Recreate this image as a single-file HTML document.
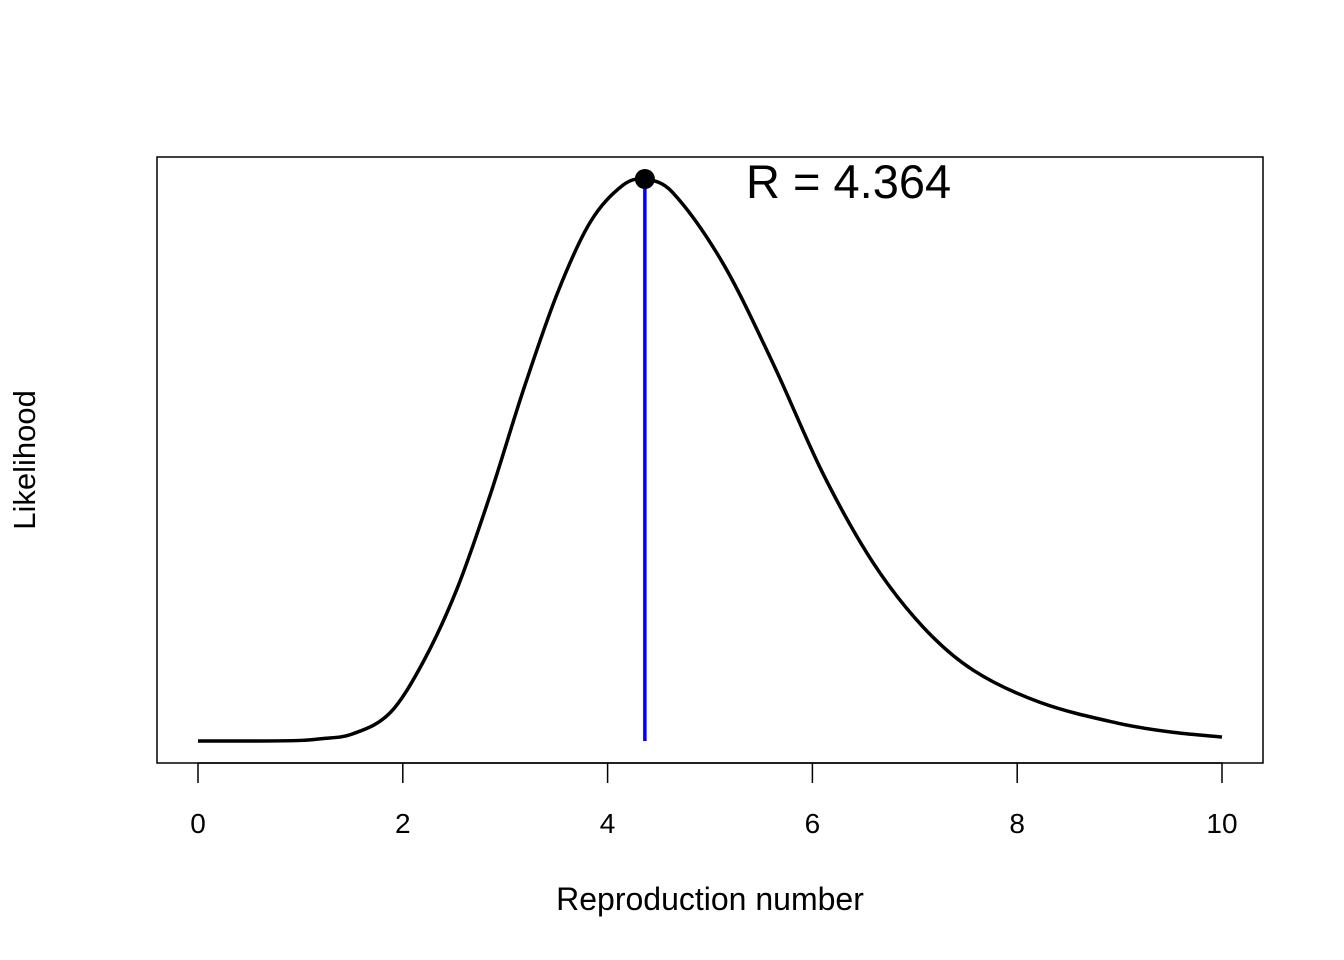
<!DOCTYPE html>
<html><head><meta charset="utf-8"><style>
body{margin:0;background:#fff}
svg{display:block;font-family:"Liberation Sans",Arial,sans-serif}
</style></head><body>
<svg id="chart" width="1344" height="960">
<rect x="157" y="157" width="1106" height="606" fill="none" stroke="#000" stroke-width="1.5"/>
<g id="xaxis"></g>
<text x="710" y="910" font-size="32" text-anchor="middle">Reproduction number</text>
<text transform="translate(35,460) rotate(-90)" font-size="31" text-anchor="middle">Likelihood</text>
<path id="curve" fill="none" stroke="#000" stroke-width="3.5" stroke-linejoin="round"/>
<line id="mleLine" stroke="#0000ff" stroke-width="3.5"/>
<circle id="mleDot" r="10" fill="#000"/>
<text id="mleLabel" x="746" y="198" font-size="47">R = 4.364</text>
</svg>
<script>
const xs=[0,0.5,1,1.2,1.5,1.875,2.2,2.53,2.85,3.18,3.51,3.83,4.15,4.364,4.63,5.12,5.61,6.1,6.59,7.08,7.57,8.22,9,9.5,10];
const likelihood=[0,0,0.001,0.004,0.012,0.05,0.141,0.271,0.436,0.626,0.797,0.923,0.989,1,0.977,0.852,0.674,0.477,0.318,0.203,0.126,0.069,0.031,0.016,0.007];
const mle=4.364;
const xTicks=[0,2,4,6,8,10];
const X=v=>198+v*102.4;
const Y=v=>741-v*562;
const NS='http://www.w3.org/2000/svg';
const g=document.getElementById('xaxis');
const ax=document.createElementNS(NS,'line');
ax.setAttribute('x1',X(xTicks[0]));ax.setAttribute('x2',X(xTicks[xTicks.length-1]));
ax.setAttribute('y1',763);ax.setAttribute('y2',763);ax.setAttribute('stroke','#000');ax.setAttribute('stroke-width','1.5');


g.appendChild(ax);
xTicks.forEach(t=>{
 const l=document.createElementNS(NS,'line');
 l.setAttribute('x1',X(t));l.setAttribute('x2',X(t));l.setAttribute('y1',763);l.setAttribute('y2',783);
 l.setAttribute('stroke','#000');l.setAttribute('stroke-width','1.5');
 
 
 g.appendChild(l);
 const tx=document.createElementNS(NS,'text');
 tx.setAttribute('x',X(t));tx.setAttribute('y',833);tx.setAttribute('font-size','28');tx.setAttribute('text-anchor','middle');
 tx.textContent=t;
 
 
 g.appendChild(tx);
});
const P=xs.map((x,i)=>[X(x),Y(likelihood[i])]);
const n=P.length;
const m=[];
for(let i=0;i<n;i++){
 const a=P[Math.max(0,i-1)],b=P[Math.min(n-1,i+1)];
 m[i]=(b[1]-a[1])/(b[0]-a[0]);
}
m[0]=0;
let d='M'+P[0][0]+','+P[0][1];
for(let i=0;i<n-1;i++){
 const h=(P[i+1][0]-P[i][0])/3;
 d+=` C${P[i][0]+h},${P[i][1]+m[i]*h} ${P[i+1][0]-h},${P[i+1][1]-m[i+1]*h} ${P[i+1][0]},${P[i+1][1]}`;
}
document.getElementById('curve').setAttribute('d',d);
const ml=document.getElementById('mleLine');
ml.setAttribute('x1',X(mle));ml.setAttribute('x2',X(mle));ml.setAttribute('y1',Y(0));ml.setAttribute('y2',Y(1));
const md=document.getElementById('mleDot');
md.setAttribute('cx',X(mle));md.setAttribute('cy',Y(1));
</script>
</body></html>
